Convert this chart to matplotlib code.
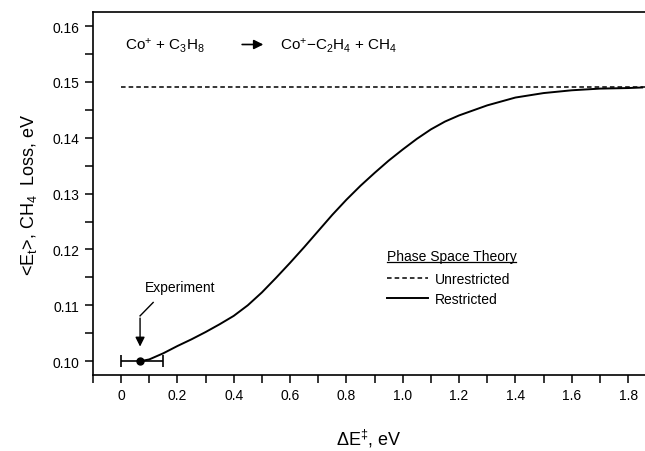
import matplotlib
matplotlib.use('Agg')
import matplotlib.pyplot as plt
from matplotlib.lines import Line2D
from matplotlib.ticker import MultipleLocator

plt.rcParams['font.family'] = ['Liberation Sans', 'DejaVu Sans']
plt.rcParams['mathtext.fontset'] = 'custom'
plt.rcParams['mathtext.rm'] = 'Liberation Sans'
plt.rcParams['mathtext.it'] = 'Liberation Sans'

# restricted phase space theory curve
dE = [0.07, 0.1, 0.15, 0.2, 0.25, 0.3, 0.35, 0.4, 0.45, 0.5, 0.55, 0.6,
      0.65, 0.7, 0.75, 0.8, 0.85, 0.9, 0.95, 1.0, 1.05, 1.1, 1.15, 1.2,
      1.3, 1.4, 1.5, 1.6, 1.7, 1.8, 1.85]
Et_restricted = [0.1000, 0.1003, 0.1014, 0.1027, 0.1039, 0.1052, 0.1066,
                 0.1081, 0.1100, 0.1123, 0.1149, 0.1176, 0.1204, 0.1233,
                 0.1262, 0.1289, 0.1314, 0.1337, 0.1359, 0.1379, 0.1398,
                 0.1415, 0.1429, 0.1440, 0.1458, 0.1472, 0.1480, 0.1485,
                 0.1488, 0.1489, 0.1490]
# unrestricted value (flat)
unres_x = [0.0, 1.86]
unres_y = [0.149, 0.149]
# experiment
exp_x = 0.068
exp_y = 0.100
exp_xerr = [[0.068], [0.082]]

fig = plt.figure(figsize=(6.45, 4.52), dpi=100)
ax = fig.add_axes([0.144, 0.168, 0.856, 0.803])

ax.plot(unres_x, unres_y, color='black', ls=(0, (3, 2)), lw=1.1,
        label='Unrestricted')
ax.plot(dE, Et_restricted, color='black', ls='-', lw=1.4, label='Restricted')
ax.errorbar([exp_x], [exp_y], xerr=exp_xerr, fmt='o', color='black', ms=5,
            capsize=4, elinewidth=1.2, capthick=1.2)

# experiment label with bent arrow
ax.text(0.085, 0.1132, 'Experiment', fontsize=10, va='center', ha='left')
ax.plot([0.114, 0.0675], [0.1105, 0.1081], color='black', lw=1)
ax.annotate('', xy=(0.0675, 0.1021), xytext=(0.0675, 0.1082),
            arrowprops=dict(arrowstyle='-|>', color='black', lw=1,
                            mutation_scale=14))

# reaction
ax.text(0.015, 0.1567, r'Co$^{+}$ + C$_3$H$_8$', fontsize=11, va='center')
ax.annotate('', xy=(0.515, 0.1567), xytext=(0.42, 0.1567),
            arrowprops=dict(arrowstyle='-|>', color='black', lw=1.2,
                            mutation_scale=14))
ax.text(0.565, 0.1567, r'Co$^{+}$$-$C$_2$H$_4$ + CH$_4$', fontsize=11,
        va='center')

# legend, title drawn separately so it can be underlined
title = ax.text(0.532, 0.328, 'Phase Space Theory', fontsize=10,
                transform=ax.transAxes, va='center', ha='left')
leg = ax.legend(loc='upper left', bbox_to_anchor=(0.532, 0.284),
                frameon=False, borderaxespad=0, borderpad=0,
                fontsize=10, handlelength=3.0,
                handletextpad=0.5, labelspacing=0.4)

ax.set_xlim(-0.1, 1.86)
ax.set_ylim(0.0975, 0.1625)
ax.xaxis.set_major_locator(MultipleLocator(0.2))
ax.xaxis.set_minor_locator(MultipleLocator(0.1))
ax.yaxis.set_major_locator(MultipleLocator(0.01))
ax.yaxis.set_minor_locator(MultipleLocator(0.005))
ax.xaxis.set_major_formatter(plt.FuncFormatter(
    lambda v, p: '0' if abs(v) < 1e-9 else '{:.1f}'.format(v)))
ax.yaxis.set_major_formatter(plt.FuncFormatter(lambda v, p: '{:.2f}'.format(v)))
ax.tick_params(which='both', direction='out', width=1.1, labelsize=10)
ax.tick_params(which='major', length=6)
ax.tick_params(which='minor', length=6)
ax.spines['right'].set_visible(False)
for s in ['left', 'bottom', 'top']:
    ax.spines[s].set_linewidth(1.2)

ax.set_xlabel(r'$\Delta$E$^{‡}$, eV', fontsize=13, labelpad=18)
ax.set_ylabel(r'<E$_t$>, CH$_4$  Loss, eV', fontsize=13, labelpad=10)

# underline legend title
fig.canvas.draw()
bb = title.get_window_extent().transformed(fig.transFigure.inverted())
fig.add_artist(Line2D([bb.x0, bb.x1], [bb.y0 + 0.002, bb.y0 + 0.002],
                      color='black', lw=0.9, transform=fig.transFigure))

fig.savefig('out.png', dpi=100)
